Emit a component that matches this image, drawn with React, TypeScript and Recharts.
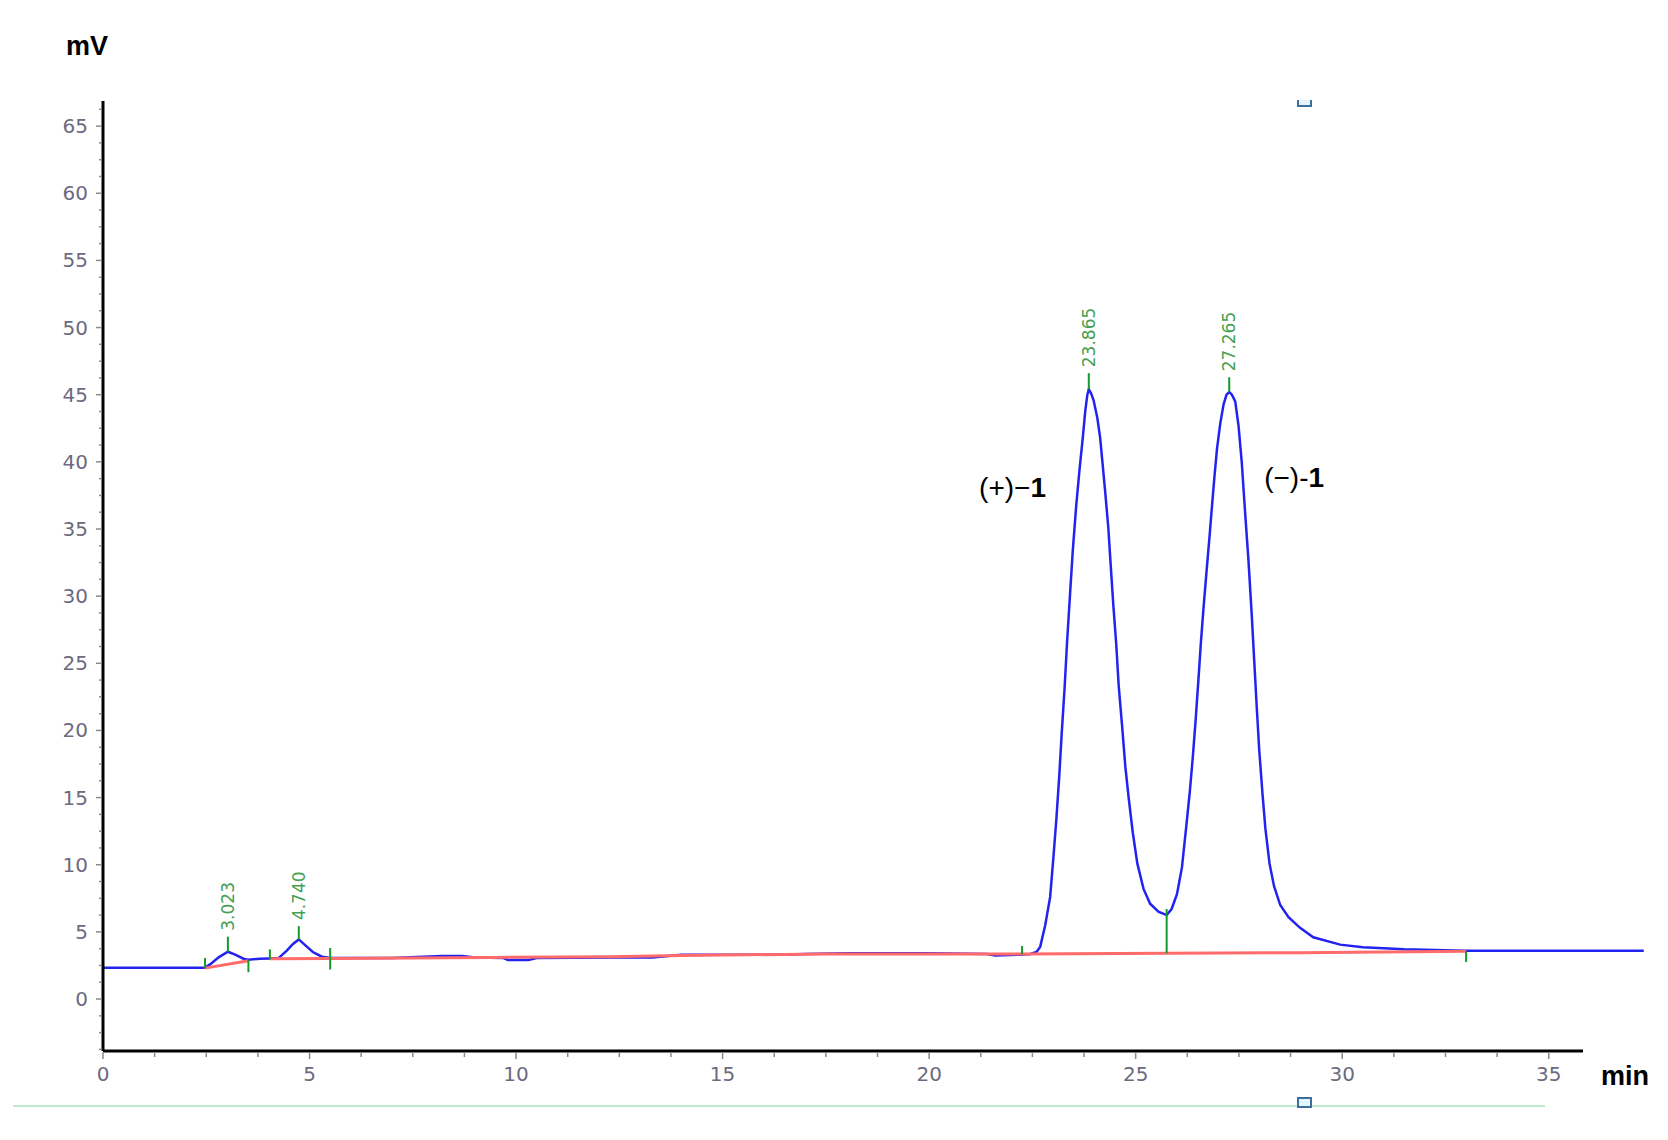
import {
  ComposedChart,
  Line,
  XAxis,
  YAxis,
  ReferenceLine,
  ReferenceDot,
} from 'recharts';

// detector trace (min, mV)
const trace: [number, number][] = [
  [0, 2.32], [2.4, 2.32], [2.47, 2.35], [2.6, 2.6], [2.8, 3.1], [3.023, 3.52],
  [3.2, 3.3], [3.4, 3.0], [3.52, 2.92], [3.8, 3.0], [4.04, 3.02], [4.25, 3.05],
  [4.45, 3.6], [4.6, 4.1], [4.74, 4.44], [4.9, 4.0], [5.08, 3.5], [5.3, 3.15],
  [5.5, 3.05], [7.0, 3.05], [8.2, 3.2], [8.7, 3.2], [9.0, 3.1], [9.7, 3.05],
  [9.8, 2.9], [10.3, 2.9], [10.5, 3.05], [12.3, 3.1], [13.3, 3.1], [14.0, 3.3],
  [15.0, 3.3], [15.5, 3.3], [16.5, 3.3], [17.0, 3.35], [18.0, 3.4], [20.0, 3.4],
  [21.4, 3.35], [21.6, 3.25], [22.2, 3.3], [22.45, 3.36], [22.6, 3.5],
  [22.69, 3.9], [22.81, 5.5], [22.93, 7.6], [23.01, 10.6], [23.08, 13.4],
  [23.15, 16.6], [23.21, 19.8], [23.28, 23.2], [23.34, 26.6], [23.41, 30.1],
  [23.48, 33.5], [23.56, 36.7], [23.64, 39.4], [23.72, 41.8], [23.78, 43.8],
  [23.83, 45.0], [23.865, 45.4], [23.92, 45.1], [23.98, 44.6], [24.07, 43.3],
  [24.14, 41.8], [24.21, 39.5], [24.27, 37.5], [24.34, 35.0], [24.4, 32.1],
  [24.46, 29.3], [24.53, 26.4], [24.59, 23.3], [24.67, 20.4], [24.75, 17.3],
  [24.83, 15.0], [24.93, 12.4], [25.04, 10.1], [25.19, 8.2], [25.35, 7.1],
  [25.55, 6.5], [25.75, 6.25], [25.87, 6.7], [26.0, 7.8], [26.12, 9.8],
  [26.22, 12.7], [26.31, 15.4], [26.38, 17.9], [26.45, 20.7], [26.52, 23.8],
  [26.58, 26.6], [26.65, 29.4], [26.72, 32.0], [26.79, 34.5], [26.85, 36.8],
  [26.91, 39.0], [26.97, 41.0], [27.05, 42.9], [27.13, 44.3], [27.2, 45.0],
  [27.265, 45.2], [27.33, 45.0], [27.41, 44.5], [27.49, 42.7], [27.57, 39.9],
  [27.65, 36.2], [27.73, 32.7], [27.81, 28.6], [27.87, 25.2], [27.93, 21.8],
  [27.99, 18.6], [28.07, 15.3], [28.14, 12.7], [28.24, 10.1], [28.35, 8.4],
  [28.5, 7.0], [28.7, 6.1], [28.98, 5.3], [29.3, 4.6], [29.95, 4.05],
  [30.5, 3.85], [31.5, 3.7], [33.0, 3.6], [37.3, 3.6],
];

// integration baselines
const baselineA: [number, number][] = [[2.47, 2.3], [3.52, 2.85]];
const baselineB: [number, number][] = [
  [4.04, 3.0], [5.5, 3.02], [7.5, 3.05], [9.4, 3.1], [12.3, 3.15], [14.0, 3.25],
  [17.5, 3.35], [22.25, 3.35], [25.75, 3.4], [29.0, 3.45], [33.0, 3.55],
];

// peak start/end marks: time, low, high
const marks: [number, number, number][] = [
  [2.47, 2.3, 3.05], [3.52, 2.0, 2.9], [4.04, 2.95, 3.7], [5.5, 2.2, 3.8],
  [22.25, 3.35, 3.95], [25.75, 3.4, 6.7], [33.0, 2.75, 3.55],
];

const peakTimes = [3.023, 4.74, 23.865, 27.265];
const peakHeights = [3.52, 4.44, 45.4, 45.2];
const peakTops = [4.64, 5.43, 46.6, 46.3];
const peakLabels = ['3.023', '4.740', '23.865', '27.265'];

const enantiomers = [
  { t: 21.21, mv: 37.4, sign: '(+)\u2212' },
  { t: 28.11, mv: 38.1, sign: '(\u2212)-' },
];

const xMajor = [0, 5, 10, 15, 20, 25, 30, 35];
const yMajor = [0, 5, 10, 15, 20, 25, 30, 35, 40, 45, 50, 55, 60, 65];
const minorStep = 1.25;
const xTicks = Array.from({ length: 29 }, (_, i) => i * minorStep);
const yTicks = Array.from({ length: 57 }, (_, i) => -3.75 + i * minorStep);

const Y_MIN = -3.87;
const Y_MAX = 66.87;
const X_AXIS_END = 35.83;

const toRows = (pts: [number, number][]) => pts.map(([t, mv]) => ({ t, mv }));

const tickColor = '#6c6a80';
const tickFont = 'DejaVu Sans, Verdana, sans-serif';

function XTick(props: any) {
  const { x, y, payload } = props;
  const v = payload.value as number;
  const major = xMajor.some((m) => Math.abs(m - v) < 1e-6);
  return (
    <g>
      <line x1={x} x2={x} y1={y + 1} y2={y + (major ? 8 : 6)} stroke="#8a8a8a" strokeWidth={1.5} />
      {major && (
        <text x={x} y={y + 30} textAnchor="middle" fontSize={20} fill={tickColor} fontFamily={tickFont}>
          {v}
        </text>
      )}
    </g>
  );
}

function YTick(props: any) {
  const { x, y, payload } = props;
  const v = payload.value as number;
  const major = yMajor.some((m) => Math.abs(m - v) < 1e-6);
  return (
    <g>
      <line x1={x - (major ? 7 : 4)} x2={x - 1} y1={y} y2={y} stroke="#8a8a8a" strokeWidth={1.5} />
      {major && (
        <text x={x - 15} y={y + 7} textAnchor="end" fontSize={20} fill={tickColor} fontFamily={tickFont}>
          {v}
        </text>
      )}
    </g>
  );
}

export default function App() {
  return (
    <div style={{ position: 'absolute', left: 0, top: 0, width: 1668, height: 1140, background: '#fff' }}>
      <ComposedChart width={1668} height={1140} margin={{ top: 101, right: 16, bottom: 49, left: 13 }}>
        <XAxis
          type="number"
          dataKey="t"
          domain={[0, 37.5]}
          ticks={xTicks}
          allowDataOverflow
          axisLine={false}
          tickLine={false}
          tickSize={0}
          tickMargin={0}
          height={40}
          tick={<XTick />}
          interval={0}
        />
        <YAxis
          type="number"
          dataKey="mv"
          domain={[Y_MIN, Y_MAX]}
          ticks={yTicks}
          allowDataOverflow
          axisLine={{ stroke: '#000', strokeWidth: 3 }}
          tickLine={false}
          tickSize={0}
          tickMargin={0}
          width={90}
          tick={<YTick />}
          interval={0}
        />
        <ReferenceLine
          segment={[{ x: 0, y: Y_MIN }, { x: X_AXIS_END, y: Y_MIN }]}
          stroke="#000"
          strokeWidth={3}
        />
        <Line
          data={toRows(trace)}
          dataKey="mv"
          type="linear"
          stroke="#2323f0"
          strokeWidth={2.5}
          dot={false}
          isAnimationActive={false}
        />
        <Line
          data={toRows(baselineA)}
          dataKey="mv"
          type="linear"
          stroke="#ff6a6a"
          strokeWidth={3}
          dot={false}
          isAnimationActive={false}
        />
        <Line
          data={toRows(baselineB)}
          dataKey="mv"
          type="linear"
          stroke="#ff6a6a"
          strokeWidth={3}
          dot={false}
          isAnimationActive={false}
        />
        {marks.map(([t, lo, hi], i) => (
          <ReferenceLine
            key={'m' + i}
            segment={[{ x: t, y: lo }, { x: t, y: hi }]}
            stroke="#129a2a"
            strokeWidth={2}
          />
        ))}
        {peakTimes.map((t, i) => (
          <ReferenceLine
            key={'p' + i}
            segment={[{ x: t, y: peakHeights[i] }, { x: t, y: peakTops[i] }]}
            stroke="#129a2a"
            strokeWidth={2}
          />
        ))}
        {peakTimes.map((t, i) => (
          <ReferenceDot
            key={'l' + i}
            x={t}
            y={peakTops[i]}
            r={0}
            shape={(p: any) => (
              <text
                x={p.cx}
                y={p.cy - 6}
                transform={`rotate(-90 ${p.cx} ${p.cy - 6})`}
                textAnchor="start"
                dominantBaseline="central"
                fontSize={17}
                fill="#46a052"
                fontFamily={tickFont}
              >
                {peakLabels[i]}
              </text>
            )}
          />
        ))}
        {enantiomers.map((e, i) => (
          <ReferenceDot
            key={'e' + i}
            x={e.t}
            y={e.mv}
            r={0}
            shape={(p: any) => (
              <text x={p.cx} y={p.cy} fontSize={28} fill="#000" fontFamily="Liberation Sans, Arial, sans-serif">
                {e.sign}
                <tspan fontWeight="bold">1</tspan>
              </text>
            )}
          />
        ))}
      </ComposedChart>
      <svg
        width={1668}
        height={1140}
        style={{ position: 'absolute', left: 0, top: 0, pointerEvents: 'none' }}
      >
        <text x={66} y={55} fontSize={27} fontWeight="bold" fontFamily="Liberation Sans, Arial, sans-serif" fill="#000">
          mV
        </text>
        <text x={1601} y={1085} fontSize={27} fontWeight="bold" fontFamily="Liberation Sans, Arial, sans-serif" fill="#000">
          min
        </text>
        <line x1={13} x2={1545} y1={1106} y2={1106} stroke="#bfe8cc" strokeWidth={2} />
        <rect x={1298} y={1098} width={13} height={9} fill="#e4f6fb" stroke="#3c6f9c" strokeWidth={2} />
        <path d="M1298 100 L1298 106 L1311 106 L1311 100" fill="#e4f6fb" stroke="#3c6f9c" strokeWidth={2} />
      </svg>
    </div>
  );
}
